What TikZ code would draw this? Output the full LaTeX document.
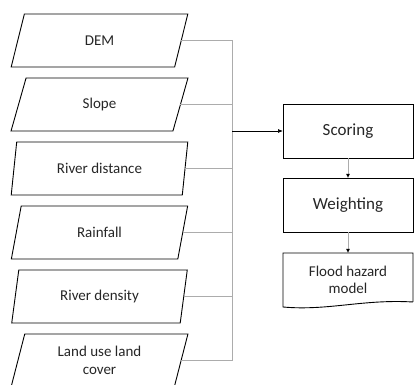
\documentclass[tikz,border=0pt]{standalone}
\usepackage{fontspec}
\setmainfont{Carlito}
\usepackage{tikz}
\usetikzlibrary{positioning}
\usetikzlibrary{arrows.meta}
\usetikzlibrary{shapes.geometric}
\tikzset{basic/.style={draw,line width=0.9pt,text=black!85,inner sep=0pt,outer sep=0pt,align=center}}
\tikzset{input/.style={basic,trapezium,trapezium left angle=75,trapezium right angle=105,trapezium stretches=true,minimum width=177pt,minimum height=53pt,font=\fontsize{15}{18}\selectfont}}
\tikzset{process/.style={basic,rectangle,minimum width=130pt,minimum height=54pt,font=\fontsize{17}{20}\selectfont}}
\tikzset{output/.style={basic,draw=none,rectangle,minimum width=130pt,minimum height=54pt,font=\fontsize{15}{17.5}\selectfont}}
\tikzset{link/.style={draw,gray!65,line width=0.8pt}}

\begin{document}
\begin{tikzpicture}[x=1pt,y=-1pt]
                \useasboundingbox (0,0) rectangle (416,385);
                % input layers
                \node[input] (dem) at (99.5,40.5) {DEM};
                \node[input,below=11pt of dem] (slope) {Slope};
                \node[input,below=11pt of slope] (distance) {River distance};
                \node[input,below=11pt of distance] (rainfall) {Rainfall};
                \node[input,below=11pt of rainfall] (density) {River density};
                \node[input,below=11pt of density] (lulc) {Land use land\\cover};
                % process chain
                \node[process] (scoring) at (348,131) {Scoring};
                \node[process,below=20pt of scoring] (weighting) {Weighting};
                \node[output,below=21pt of weighting] (model) {Flood hazard\\model};
                    \draw[line width=0.9pt] ([yshift=5pt]model.south east) -- (model.north east) -- (model.north west) -- (model.south west)
                        .. controls ([xshift=45pt,yshift=-4pt]model.south west) and ([xshift=-50pt,yshift=8pt]model.south east) .. ([yshift=5pt]model.south east);
                % collector line
                \coordinate (bus) at (232,131);
                    \path[link] (dem.east) -- (dem.east -| bus) -- (lulc.east -| bus) -- (lulc.east);
                \foreach \n in {slope,distance,rainfall,density}
                    \path[link] (\n.east) -- (\n.east -| bus);
                    \path[draw,line width=0.7pt,-{Latex[length=5pt,width=4pt]}] (bus) -- (scoring);
                    \path[link,-{Latex[length=4pt,width=4pt,color=black]}] (scoring) -- (weighting);
                    \path[link,-{Latex[length=4pt,width=4pt,color=black]}] (weighting) -- (model);
            \end{tikzpicture}
\end{document}
